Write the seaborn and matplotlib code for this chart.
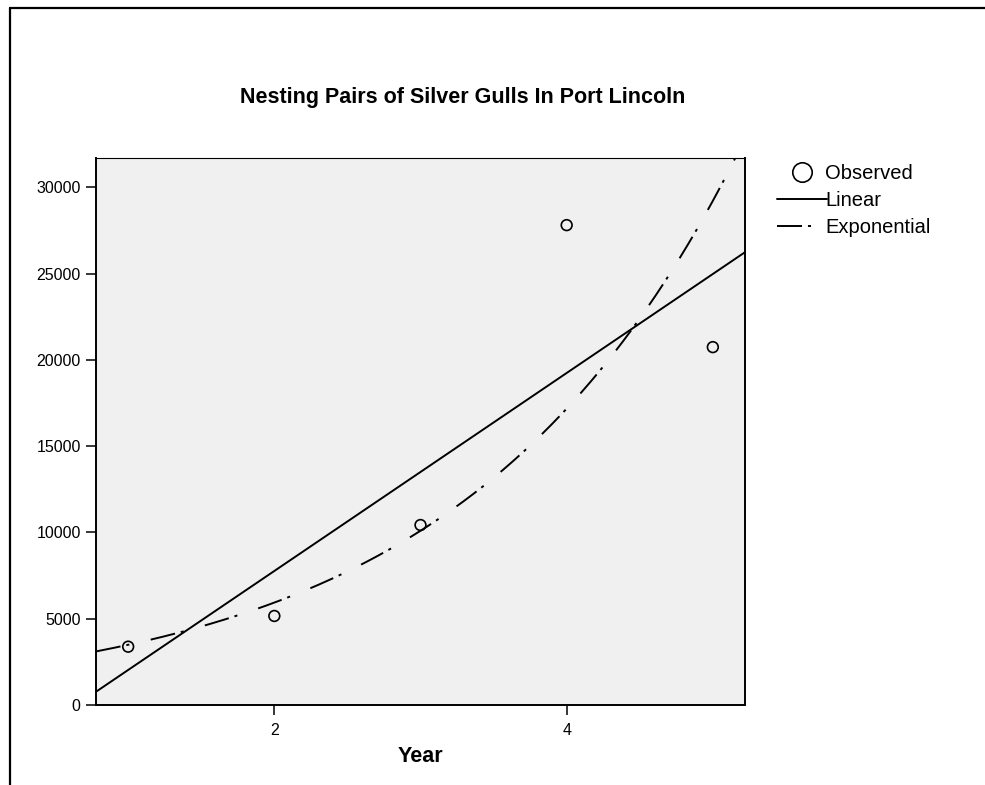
import numpy as np
import pandas as pd
import matplotlib
matplotlib.use("Agg")
import matplotlib.pyplot as plt
import seaborn as sns
from matplotlib.lines import Line2D

# ---- data ----
years = [1, 2, 3, 4, 5]
pairs = [3380, 5160, 10430, 27810, 20740]
x_ticks = [2, 4]
y_ticks = [0, 5000, 10000, 15000, 20000, 25000, 30000]
title_text = "Nesting Pairs of Silver Gulls In Port Lincoln"
xlabel_text = "Year"
legend_labels = ["Observed", "Linear", "Exponential"]

sns.set_theme(style="white")
plt.rcParams["font.family"] = ["Liberation Sans", "DejaVu Sans"]
plt.rcParams["lines.scale_dashes"] = False

W, H = 985, 785
fig = plt.figure(figsize=(W / 100, H / 100), dpi=100)
ax = fig.add_axes([96 / W, 1 - 705 / H, (745 - 96) / W, (705 - 158) / H])
ax.set_facecolor("#f0f0f0")

xlim = (0.78, 5.22)
ylim = (0, 31700)
xs = np.linspace(xlim[0], xlim[1], 400)
b1, b0 = np.polyfit(years, pairs, 1)
c1, c0 = np.polyfit(years, np.log(pairs), 1)
fits = pd.DataFrame({"Year": xs,
                     "Linear": b0 + b1 * xs,
                     "Exponential": np.exp(c0 + c1 * xs)})
obs = pd.DataFrame({"Year": years, "Pairs": pairs})

exp_dash = (0, (18, 4.3, 2.2, 15.8))
lw = 1.4
sns.lineplot(data=fits, x="Year", y="Linear", ax=ax, color="black", linewidth=lw)
sns.lineplot(data=fits, x="Year", y="Exponential", ax=ax, color="black", linewidth=lw)
ax.lines[-1].set_linestyle(exp_dash)
sns.scatterplot(data=obs, x="Year", y="Pairs", ax=ax, s=60, marker="o", zorder=4)
coll = ax.collections[-1]
coll.set_facecolor("none")
coll.set_edgecolor("black")
coll.set_linewidth(1.2)

ax.set_xlim(*xlim)
ax.set_ylim(*ylim)
ax.set_xticks(x_ticks)
ax.set_yticks(y_ticks)
ax.tick_params(axis="both", direction="out", length=7.5, width=1.1,
               color="black", labelcolor="black", labelsize=11.5,
               bottom=True, left=True)
ax.tick_params(axis="x", pad=5.5)
ax.tick_params(axis="y", pad=3.5)
ax.set_ylabel("")
ax.set_xlabel(xlabel_text, fontsize=15.5, fontweight="bold", color="black", labelpad=6)

for side in ["left", "bottom", "right"]:
    ax.spines[side].set_color("black")
    ax.spines[side].set_linewidth(1.4)
ax.spines["top"].set_color("black")
ax.spines["top"].set_linewidth(0.8)

fig.text(463 / W, 1 - 97 / H, title_text, ha="center", va="center",
         fontsize=15.5, fontweight="bold", color="black")

handles = [
    Line2D([], [], linestyle="none", marker="o", markersize=14,
           markerfacecolor="white", markeredgecolor="black", markeredgewidth=1.2),
    Line2D([], [], color="black", linewidth=lw),
    Line2D([], [], color="black", linewidth=lw, linestyle=exp_dash),
]
fig.legend(handles, legend_labels, loc="upper left",
           bbox_to_anchor=(777 / W, 1 - 164 / H), frameon=False,
           fontsize=14.5, handlelength=2.5, handletextpad=-0.1,
           labelspacing=0.4, borderpad=0, borderaxespad=0,
           labelcolor="black")

# outer frame (top and left edges)
fig.add_artist(Line2D([10 / W, 1], [1 - 7.5 / H, 1 - 7.5 / H],
                      transform=fig.transFigure, color="black", linewidth=1.6))
fig.add_artist(Line2D([10 / W, 10 / W], [0, 1 - 7.5 / H],
                      transform=fig.transFigure, color="black", linewidth=1.6))

fig.savefig("out.png", dpi=100)
